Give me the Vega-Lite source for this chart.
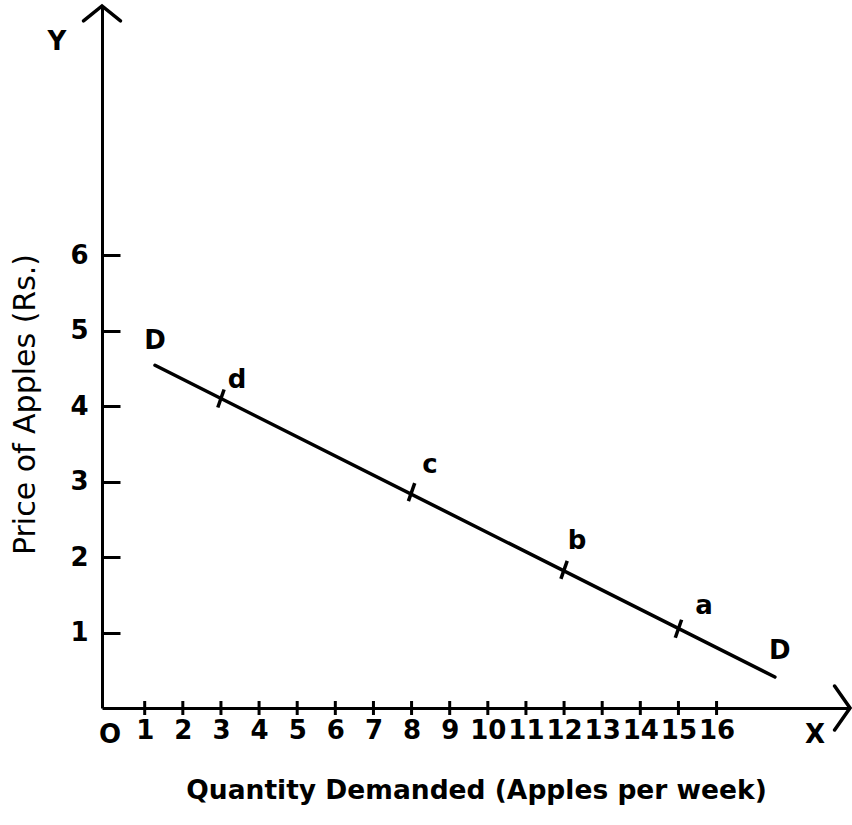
{
  "$schema": "https://vega.github.io/schema/vega-lite/v6.json",
  "width": 748,
  "height": 702,
  "autosize": {"type": "none"},
  "padding": {"left": 102, "top": 6, "right": 2, "bottom": 117},
  "background": "white",
  "config": {"view": {"stroke": null}, "font": "DejaVu Sans"},
  "datasets": {
    "demand": [{"Q": 1.27, "P": 4.54}, {"Q": 17.53, "P": 0.41}],
    "points": [
      {"Q": 3, "P": 4.1, "point": "d"},
      {"Q": 8, "P": 2.86, "point": "c"},
      {"Q": 12, "P": 1.83, "point": "b"},
      {"Q": 15, "P": 1.05, "point": "a"}
    ],
    "labels": [
      {"Q": 3.42, "P": 4.34, "text": "d"},
      {"Q": 8.48, "P": 3.22, "text": "c"},
      {"Q": 12.34, "P": 2.21, "text": "b"},
      {"Q": 15.67, "P": 1.35, "text": "a"},
      {"Q": 1.27, "P": 4.86, "text": "D"},
      {"Q": 17.66, "P": 0.75, "text": "D"},
      {"Q": -1.3, "P": 8.82, "text": "Y"},
      {"Q": 18.58, "P": -0.36, "text": "X"},
      {"Q": 0.09, "P": -0.36, "text": "O"}
    ],
    "xticks": [
      {"Q": 1, "P": 0}, {"Q": 2, "P": 0}, {"Q": 3, "P": 0}, {"Q": 4, "P": 0},
      {"Q": 5, "P": 0}, {"Q": 6, "P": 0}, {"Q": 7, "P": 0}, {"Q": 8, "P": 0},
      {"Q": 9, "P": 0}, {"Q": 10, "P": 0}, {"Q": 11, "P": 0}, {"Q": 12, "P": 0},
      {"Q": 13, "P": 0}, {"Q": 14, "P": 0}, {"Q": 15, "P": 0}, {"Q": 16, "P": 0}
    ],
    "arrows": [
      {"Q": -0.12, "P": 9.3, "dir": "up"},
      {"Q": 19.5, "P": 0, "dir": "right"}
    ]
  },
  "encoding": {
    "x": {
      "field": "Q",
      "type": "quantitative",
      "scale": {"domain": [-0.12, 19.5], "nice": false, "zero": false},
      "axis": {
        "values": [1, 2, 3, 4, 5, 6, 7, 8, 9, 10, 11, 12, 13, 14, 15, 16],
        "grid": false,
        "ticks": false,
        "domainColor": "black",
        "domainWidth": 3,
        "labelFontSize": 26,
        "labelFontWeight": "bold",
        "labelColor": "black",
        "labelPadding": 9,
        "labelFlush": false,
        "labelOverlap": false,
        "title": "Quantity Demanded  (Apples per week)",
        "titleFontSize": 26.5,
        "titleFontWeight": "bold",
        "titleColor": "black",
        "titlePadding": 34
      }
    },
    "y": {
      "field": "P",
      "type": "quantitative",
      "scale": {"domain": [0, 9.3], "nice": false, "zero": false},
      "axis": {
        "values": [1, 2, 3, 4, 5, 6],
        "grid": false,
        "tickSize": -18,
        "tickWidth": 3,
        "tickColor": "black",
        "domainColor": "black",
        "domainWidth": 3,
        "labelFontSize": 26,
        "labelFontWeight": "bold",
        "labelColor": "black",
        "labelPadding": 32,
        "labelFlush": false,
        "title": "Price of Apples (Rs.)",
        "titleFontSize": 30,
        "titleFontWeight": "normal",
        "titleColor": "black",
        "titleX": -77,
        "titleY": 398,
        "titleAlign": "center",
        "titleBaseline": "middle",
        "titleAngle": -90
      }
    }
  },
  "layer": [
    {
      "data": {"name": "demand"},
      "mark": {"type": "line", "color": "black", "strokeWidth": 3.5, "strokeCap": "round"}
    },
    {
      "data": {"name": "points"},
      "mark": {"type": "point", "shape": "M-0.35,1L0.35,-1", "size": 324, "filled": false, "stroke": "black", "strokeWidth": 3.5, "opacity": 1}
    },
    {
      "data": {"name": "xticks"},
      "mark": {"type": "point", "shape": "M0,-1L0,1", "size": 196, "filled": false, "stroke": "black", "strokeWidth": 3, "opacity": 1}
    },
    {
      "data": {"name": "arrows"},
      "mark": {"type": "point", "filled": false, "stroke": "black", "strokeWidth": 3.5, "opacity": 1, "strokeCap": "round", "strokeJoin": "miter"},
      "encoding": {
        "shape": {
          "field": "dir",
          "type": "nominal",
          "scale": {"domain": ["up", "right"], "range": ["M-1,0.8L0,0L1,0.8", "M-0.7,-1L0,0L-0.7,1"]},
          "legend": null
        },
        "size": {
          "field": "dir",
          "type": "nominal",
          "scale": {"domain": ["up", "right"], "range": [1369, 1936]},
          "legend": null
        }
      }
    },
    {
      "data": {"name": "labels"},
      "mark": {"type": "text", "fontSize": 26, "fontWeight": "bold", "color": "black", "align": "center", "baseline": "middle"},
      "encoding": {"text": {"field": "text", "type": "nominal"}}
    }
  ]
}
